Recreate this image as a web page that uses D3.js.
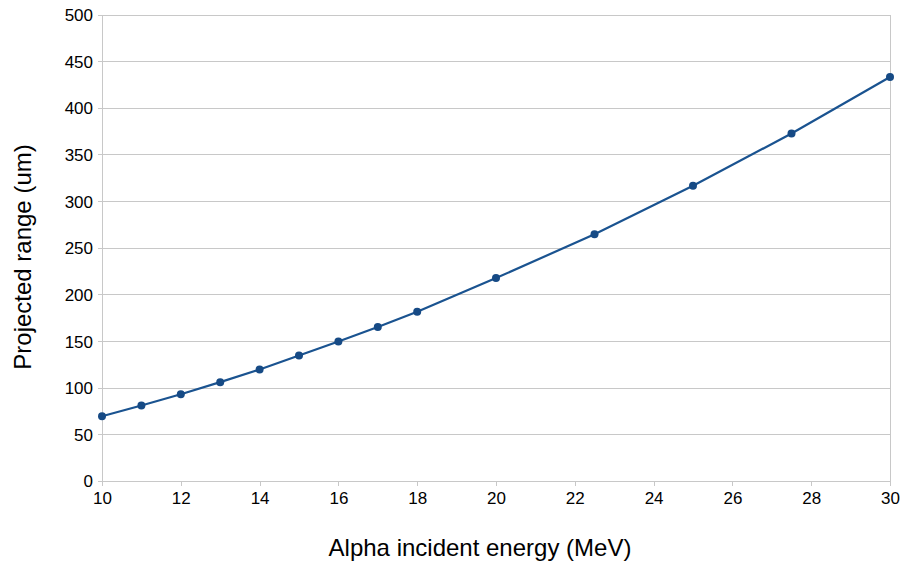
<!DOCTYPE html>
<html><head><meta charset="utf-8">
<script src="https://cdn.jsdelivr.net/npm/d3@7"></script>
<style>body{margin:0;background:#fff;} svg{display:block;}</style>
</head><body>
<svg id="c" width="904" height="564"></svg>
<script>
const energy = [10, 11, 12, 13, 14, 15, 16, 17, 18, 20, 22.5, 25, 27.5, 30];
const range = [70, 81.5, 93.5, 106.5, 120, 135, 150, 165.5, 182, 218, 265, 317, 373, 433.5];
const xTicks = [10, 12, 14, 16, 18, 20, 22, 24, 26, 28, 30];
const yTicks = [0, 50, 100, 150, 200, 250, 300, 350, 400, 450, 500];
const xTitle = "Alpha incident energy (MeV)";
const yTitle = "Projected range (um)";

const svg = d3.select("#c");
const L = 102, R = 890, T = 15, B = 481.5;
const x = d3.scaleLinear().domain([10, 30]).range([L, R]);
const y = d3.scaleLinear().domain([0, 500]).range([B, T]);
const font = "'Liberation Sans', Arial, sans-serif";
const grid = "#c8c8c8";

svg.append("g").selectAll("line").data(yTicks).join("line")
  .attr("x1", L - 4).attr("x2", R).attr("y1", d => y(d)).attr("y2", d => y(d))
  .attr("stroke", grid).attr("stroke-width", 1).attr("shape-rendering", "crispEdges");
svg.append("line").attr("x1", L).attr("x2", L).attr("y1", T).attr("y2", B)
  .attr("stroke", grid).attr("shape-rendering", "crispEdges");
svg.append("line").attr("x1", R).attr("x2", R).attr("y1", T).attr("y2", B)
  .attr("stroke", grid).attr("shape-rendering", "crispEdges");

const xa = svg.append("g").attr("transform", `translate(0,${B})`)
  .call(d3.axisBottom(x).tickValues(xTicks).tickSize(4).tickPadding(6).tickFormat(d3.format("d")));
xa.select(".domain").remove();
xa.selectAll(".tick line").attr("stroke", grid).attr("shape-rendering", "crispEdges");
xa.selectAll("text").attr("font-family", font).attr("font-size", 17).attr("fill", "#000");

const ya = svg.append("g").attr("transform", `translate(${L},0)`)
  .call(d3.axisLeft(y).tickValues(yTicks).tickSize(0).tickPadding(9).tickFormat(d3.format("d")));
ya.select(".domain").remove();
ya.selectAll("text").attr("font-family", font).attr("font-size", 17).attr("fill", "#000");

const pts = energy.map((e, i) => [e, range[i]]);
svg.append("path").datum(pts)
  .attr("d", d3.line().x(d => x(d[0])).y(d => y(d[1])))
  .attr("fill", "none").attr("stroke", "#1a5390").attr("stroke-width", 2.2);
svg.append("g").selectAll("circle").data(pts).join("circle")
  .attr("cx", d => x(d[0])).attr("cy", d => y(d[1])).attr("r", 4)
  .attr("fill", "#164a85");

svg.append("text").attr("x", 480).attr("y", 556)
  .attr("text-anchor", "middle").attr("font-family", font).attr("font-size", 24).attr("fill", "#000")
  .text(xTitle);
svg.append("text").attr("transform", `translate(31,257) rotate(-90)`)
  .attr("text-anchor", "middle").attr("font-family", font).attr("font-size", 24).attr("fill", "#000")
  .text(yTitle);
</script>
</body></html>
